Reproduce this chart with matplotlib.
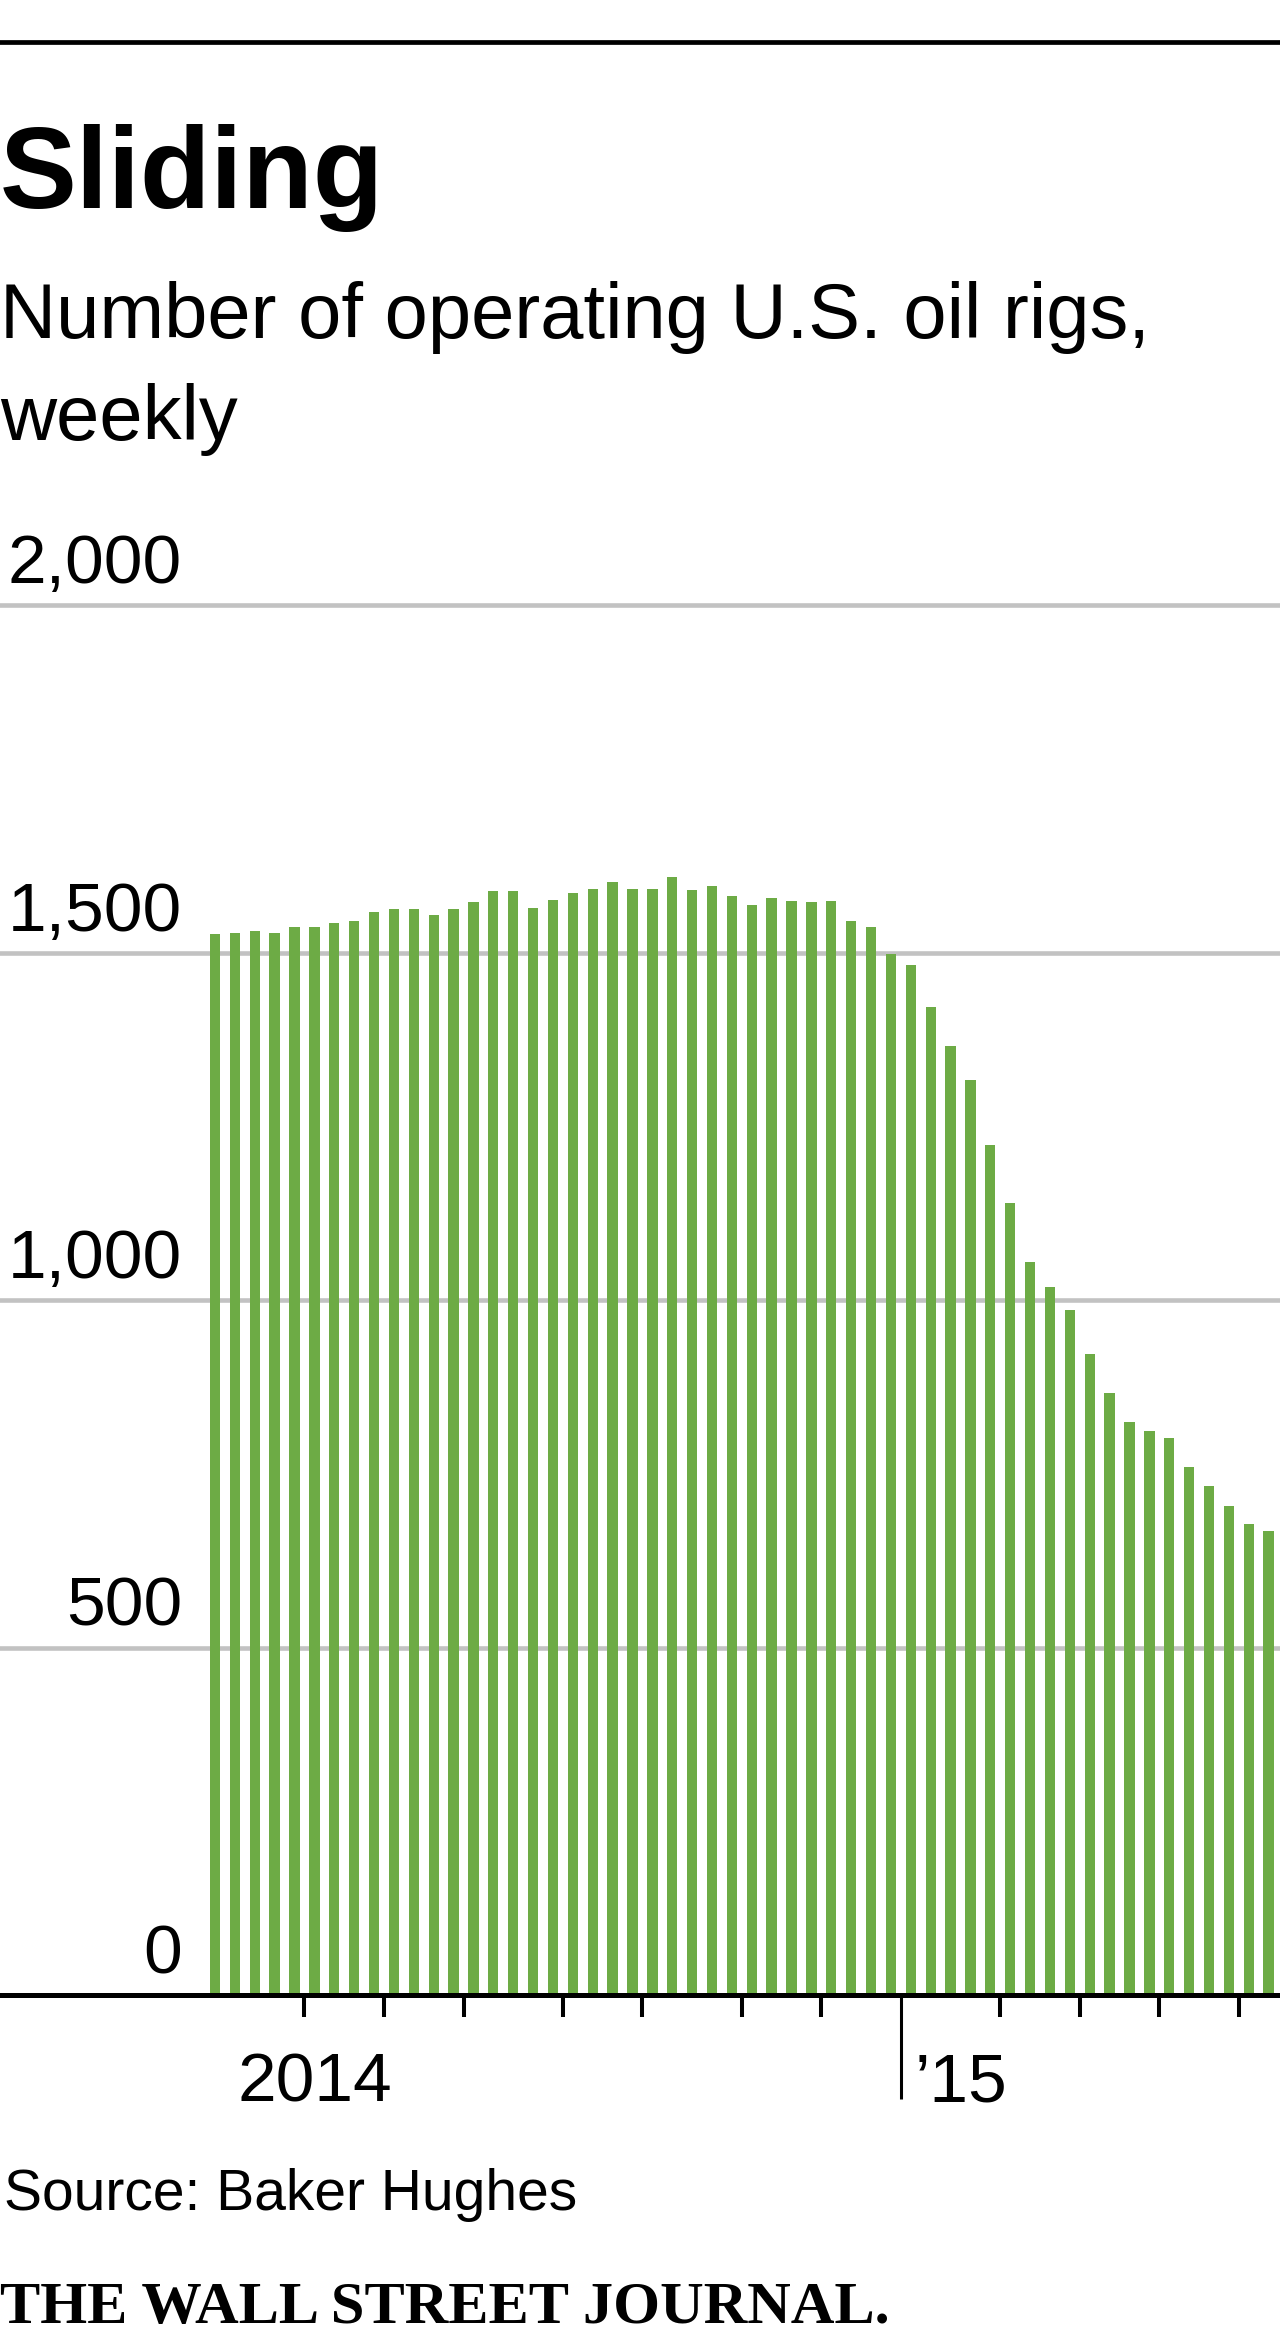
# -*- coding: utf-8 -*-
"""Sliding: weekly count of operating U.S. oil rigs (WSJ style bar chart)."""
import matplotlib
matplotlib.use('Agg')
import matplotlib.pyplot as plt
import pandas as pd
from matplotlib.transforms import offset_copy

# weekly rig counts, first week 2014-05-02
first_week = '2014-05-02'
rig_counts = [1527, 1528, 1531, 1528, 1536, 1536, 1542, 1545, 1558, 1562,
              1563, 1554, 1562, 1573, 1588, 1589, 1564, 1575, 1585, 1592,
              1601, 1592, 1591, 1609, 1590, 1595, 1582, 1568, 1578, 1574,
              1572, 1574, 1546, 1536, 1498, 1482, 1421, 1365, 1317, 1223,
              1139, 1055, 1019, 986, 922, 866, 824, 812, 801, 760,
              733, 703, 678, 667]
y_ticks = [0, 500, 1000, 1500, 2000]
year_labels = {2014: '2014', 2015: '\u201915'}

GREEN = '#6dab45'
GRID = '#c2c2c2'
W, H = 1280, 2341


def fy(px):
    """pixel row (from top) -> figure fraction"""
    return 1 - px / H


def sliding():
    plt.rcParams['font.family'] = ['Liberation Sans', 'DejaVu Sans']
    fig = plt.figure(figsize=(W / 100, H / 100), dpi=100)

    # chart area: x in bar index units, 0 at pixel row 1995, 2000 at row 605
    ax = fig.add_axes([0, fy(1995), 1, (1995 - 605) / H])
    pitch = 19.88
    ax.set_xlim(-215 / pitch, -215 / pitch + W / pitch)
    ax.set_ylim(0, 2000)
    for s in ax.spines.values():
        s.set_visible(False)
    ax.set_yticks([])

    weeks = pd.date_range(first_week, periods=len(rig_counts), freq='7D')
    idx = list(range(len(weeks)))
    ax.bar(idx, rig_counts, width=0.52, color=GREEN, zorder=2)

    for v in y_ticks[1:]:
        ax.axhline(v, color=GRID, lw=3.3, zorder=1, clip_on=False)
    ax.axhline(0, color='black', lw=3.6, zorder=3, clip_on=False)

    lab_tr = offset_copy(ax.get_yaxis_transform(), fig=fig, y=22, units='dots')
    for v in y_ticks:
        ax.text(182 / W, v, f'{v:,}', transform=lab_tr, ha='right',
                va='baseline', fontsize=50, color='black')

    # month boundaries as ticks, new year gets the long one
    month_ticks, year_ticks = [], []
    for i in range(1, len(weeks)):
        if weeks[i].month != weeks[i - 1].month:
            if weeks[i].year != weeks[i - 1].year:
                year_ticks.append(i - 0.5)
            else:
                month_ticks.append(i - 0.5)
    ax.set_xticks(year_ticks)
    ax.set_xticks(month_ticks, minor=True)
    ax.set_xticklabels([])
    ax.tick_params(axis='x', which='minor', direction='out', length=15.5,
                   width=2.9, color='black')
    ax.tick_params(axis='x', which='major', direction='out', length=75,
                   width=2.2, color='black')

    lab_x = offset_copy(ax.transData, fig=fig, y=-107, units='dots')
    ax.text(5.0, 0, year_labels[2014], transform=lab_x, ha='center',
            va='baseline', fontsize=50)
    ax.text(year_ticks[0] + 0.7, 0, year_labels[2015], transform=lab_x,
            ha='left', va='baseline', fontsize=50)

    # header and footer
    fig.add_artist(plt.Line2D([0, 1], [fy(42), fy(42)], color='black', lw=3.4))
    fig.text(0.0, fy(208), 'Sliding', fontsize=83, fontweight='bold',
             va='baseline', ha='left')
    fig.text(0.0, fy(338), 'Number of operating U.S. oil rigs,', fontsize=56,
             va='baseline', ha='left')
    fig.text(0.0, fy(440), 'weekly', fontsize=56, va='baseline', ha='left')
    fig.text(0.003, fy(2210), 'Source: Baker Hughes', fontsize=41,
             va='baseline', ha='left')
    fig.text(0.0, fy(2323), 'THE WALL STREET JOURNAL.', fontsize=43.5,
             fontweight='bold', family=['Liberation Serif', 'DejaVu Serif'],
             va='baseline', ha='left')

    fig.savefig('out.png', dpi=100)


if __name__ == '__main__':
    sliding()
